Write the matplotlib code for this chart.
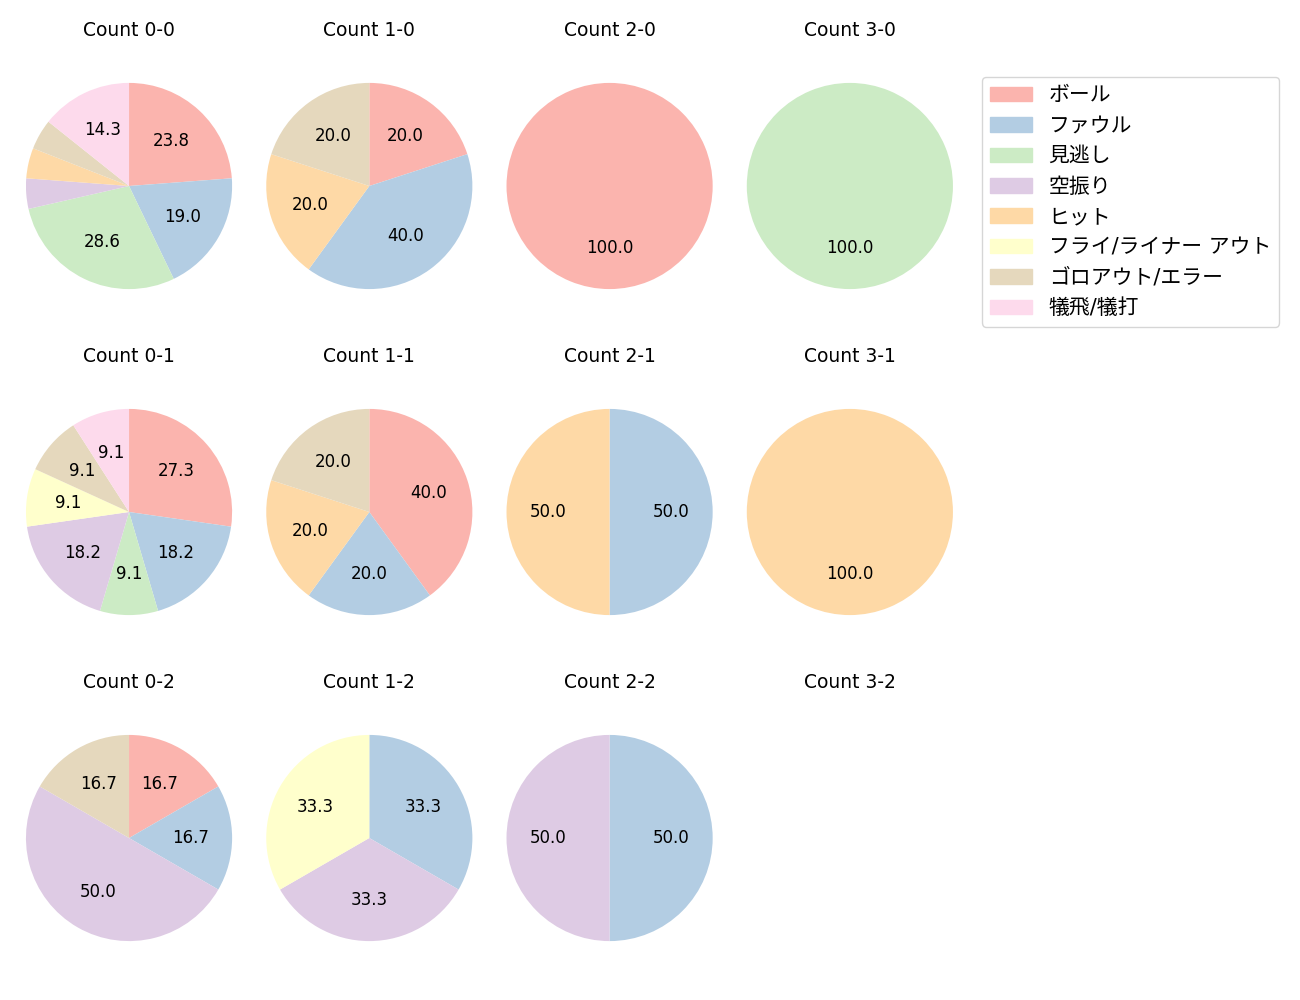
import numpy as np
import matplotlib
matplotlib.use('Agg')
import matplotlib.pyplot as plt

plt.rcParams['font.family'] = ['DejaVu Sans', 'Noto Sans CJK JP']

# ─── DADOS ────────────────────────────────────────────────────────────────
labels = ['ボール', 'ファウル', '見逃し', '空振り', 'ヒット',
          'フライ/ライナー アウト', 'ゴロアウト/エラー', '犠飛/犠打']

# contagem por resultado (mesma ordem de labels)
counts = {
    '0-0': [5, 4, 6, 1, 1, 0, 1, 3],
    '1-0': [1, 2, 0, 0, 1, 0, 1, 0],
    '2-0': [1, 0, 0, 0, 0, 0, 0, 0],
    '3-0': [0, 0, 1, 0, 0, 0, 0, 0],
    '0-1': [3, 2, 1, 2, 0, 1, 1, 1],
    '1-1': [2, 1, 0, 0, 1, 0, 1, 0],
    '2-1': [0, 1, 0, 0, 1, 0, 0, 0],
    '3-1': [0, 0, 0, 0, 1, 0, 0, 0],
    '0-2': [1, 1, 0, 3, 0, 0, 1, 0],
    '1-2': [0, 1, 0, 1, 0, 1, 0, 0],
    '2-2': [0, 1, 0, 1, 0, 0, 0, 0],
    '3-2': [0, 0, 0, 0, 0, 0, 0, 0],
}

colors = plt.cm.Pastel1(np.arange(len(labels)))

fig, axes = plt.subplots(3, 4, figsize=(13, 10), dpi=100)
plt.subplots_adjust(left=0.016, right=0.737, top=0.956, bottom=0.02,
                    wspace=0.11, hspace=0.148)

for i in range(3):
    for j in range(4):
        ax = axes[i, j]
        key = f'{j}-{i}'
        vals = np.array(counts[key])
        ax.set_title(f'Count {key}', fontsize=13.5)
        if vals.sum() == 0:
            ax.axis('off')
            continue
        mask = vals > 0
        ax.pie(vals[mask], colors=colors[mask], startangle=90, counterclock=False,
               autopct=lambda p: f'{p:.1f}' if p > 5 else '',
               textprops={'fontsize': 12})
        ax.margins(0.025)
        ax.axis('equal')

handles = [plt.Rectangle((0, 0), 1, 1, color=c) for c in colors]
fig.legend(handles, labels, loc='upper left', bbox_to_anchor=(982 / 1300, 1 - 77 / 1000),
           borderaxespad=0, fontsize=15, labelspacing=0.5)

plt.savefig('out.png', dpi=100)
